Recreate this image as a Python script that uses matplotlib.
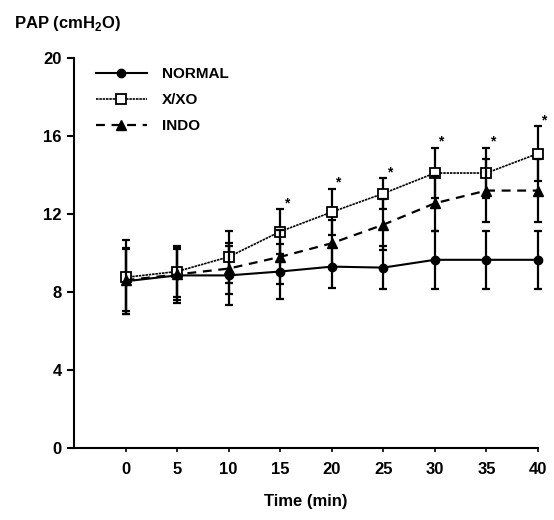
import matplotlib
matplotlib.use("Agg")
import numpy as np
from matplotlib import pyplot as plt

plt.rcParams['font.family'] = ['Liberation Sans', 'DejaVu Sans']
plt.rcParams['font.weight'] = 'bold'
plt.rcParams['mathtext.fontset'] = 'custom'
plt.rcParams['mathtext.rm'] = 'Liberation Sans'
plt.rcParams['mathtext.bf'] = 'Liberation Sans:bold'

# values
time = [0, 5, 10, 15, 20, 25, 30, 35, 40]
normal = [8.55, 8.85, 8.85, 9.05, 9.3, 9.25, 9.65, 9.65, 9.65]
normal_sd = [1.7, 1.4, 1.5, 1.4, 1.1, 1.1, 1.5, 1.5, 1.5]
xo = [8.75, 9.05, 9.8, 11.1, 12.1, 13.05, 14.1, 14.1, 15.1]
xo_sd = [1.9, 1.3, 1.35, 1.15, 1.2, 0.8, 1.3, 1.3, 1.4]
indo = [8.6, 8.9, 9.2, 9.8, 10.5, 11.45, 12.55, 13.2, 13.2]
indo_sd = [1.6, 1.3, 1.3, 1.4, 1.2, 1.3, 1.4, 1.6, 1.6]
signif = [15, 20, 25, 30, 35, 40]

fig = plt.figure(figsize=(5.54, 5.20), dpi=100)
ax = fig.add_axes([0.1336, 0.1385, 0.8375, 0.75])

series = [
    (normal, normal_sd, 'NORMAL', dict(ls='-', lw=1.5, marker='o', ms=6, mfc='black')),
    (xo, xo_sd, 'X/XO', dict(ls=(0, (1.5, 0.5)), lw=1.2, marker='s', ms=7, mfc='white', mew=1.3)),
    (indo, indo_sd, 'INDO', dict(ls=(0, (4, 3)), lw=1.6, marker='^', ms=7, mfc='black')),
]
for vals, sd, name, st in series:
    ax.errorbar(time, vals, yerr=sd, fmt='none', ecolor='black',
                elinewidth=1.6, capsize=3, capthick=1.6, clip_on=False)
    ax.plot(time, vals, color='black', label=name, clip_on=False, **st)

# significance stars above the X/XO bars
for t in signif:
    i = time.index(t)
    ax.text(t + 0.6, xo[i] + xo_sd[i] + 0.3, '*', fontsize=10,
            ha='center', va='center')

ax.set_xlim(-5, 40)
ax.set_ylim(0, 20)
ax.set_xticks(time)
ax.set_yticks([0, 4, 8, 12, 16, 20])
ax.spines['top'].set_visible(False)
ax.spines['right'].set_visible(False)
ax.spines['left'].set_linewidth(1.5)
ax.spines['bottom'].set_linewidth(1.5)
ax.tick_params(axis='y', length=5, width=1.5, labelsize=12, pad=4)
ax.tick_params(axis='x', length=3, width=1.2, labelsize=12, pad=7)

ax.set_xlabel('Time (min)', fontsize=12, fontweight='bold', labelpad=12)
fig.text(0.025, 0.955, r'PAP (cmH$_\mathbf{2}$O)', fontsize=12,
         fontweight='bold', ha='left', va='center')

ax.legend(loc='upper left', bbox_to_anchor=(0.018, 1.012), frameon=False,
          fontsize=11, handlelength=3.3, labelspacing=0.8, handletextpad=1.0)

fig.savefig('out.png', dpi=100)
